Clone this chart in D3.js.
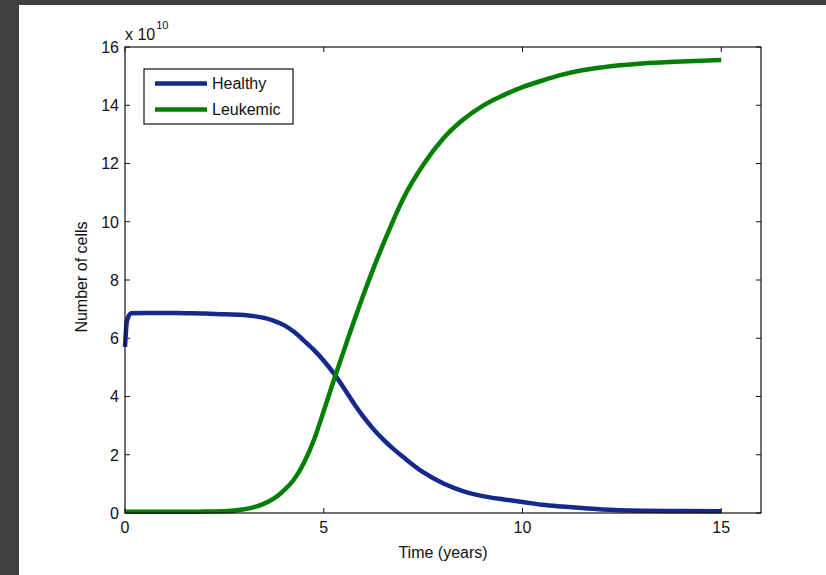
<!DOCTYPE html>
<html lang="en">
<head>
  <meta charset="UTF-8">
  <title>Healthy vs Leukemic cells</title>
  <script src="https://d3js.org/d3.v7.min.js"></script>
  <style>
    body { margin: 0; background: #3f3f3f; }
    #chart { width: 826px; height: 575px; }
    text { font-family: "Liberation Sans", Arial, sans-serif; fill: #111; }
  </style>
</head>
<body>
  <div id="chart"></div>
  <script>
    // time points (years) shared by both series
    const timeYears = [0, 0.05, 0.15, 0.5, 1, 1.5, 2, 2.5, 3, 3.25, 3.5, 3.75, 4, 4.25, 4.5, 4.75,
      5, 5.25, 5.5, 5.75, 6, 6.25, 6.5, 6.75, 7, 7.5, 8, 8.5, 9, 9.5, 10, 10.5, 11, 11.5, 12, 13, 14, 15];
    // values in units of 1e10 cells
    const healthy = [5.7, 6.6, 6.86, 6.87, 6.87, 6.86, 6.85, 6.82, 6.8, 6.76, 6.7, 6.6, 6.45, 6.22, 5.92, 5.6,
      5.23, 4.8, 4.3, 3.78, 3.3, 2.88, 2.52, 2.2, 1.92, 1.4, 1.02, 0.75, 0.58, 0.47, 0.38, 0.28, 0.22, 0.17, 0.12, 0.08, 0.07, 0.06];
    const leukemic = [0.04, 0.04, 0.04, 0.04, 0.04, 0.04, 0.05, 0.06, 0.13, 0.2, 0.32, 0.5, 0.78, 1.15, 1.72, 2.5,
      3.5, 4.55, 5.55, 6.55, 7.5, 8.4, 9.25, 10.05, 10.8, 11.95, 12.85, 13.5, 13.98, 14.33, 14.62, 14.85, 15.05, 15.2, 15.3, 15.43, 15.5, 15.55];
    const seriesNames = ['Healthy', 'Leukemic'];
    const seriesColors = ['#15298c', '#038003'];
    const xTicks = [0, 5, 10, 15];
    const yTicks = [0, 2, 4, 6, 8, 10, 12, 14, 16];

    const W = 826, H = 575;
    const margin = { top: 47, right: 65, bottom: 62, left: 125 };
    const width = W - margin.left - margin.right;
    const height = H - margin.top - margin.bottom;

    const root = d3.select('#chart').append('svg')
      .attr('width', W)
      .attr('height', H);

    root.append('rect').attr('x', 19).attr('y', 5).attr('width', W - 19).attr('height', H - 5).attr('fill', '#fff');

    const svg = root.append('g').attr('transform', `translate(${margin.left},${margin.top})`);

    const x = d3.scaleLinear().domain([0, 16]).range([0, width]);
    const y = d3.scaleLinear().domain([0, 16]).range([height, 0]);

    const tickLen = 5;

    // tick marks (inward) on all four sides
    const tickG = svg.append('g').attr('stroke', '#111').attr('stroke-width', 1);
    xTicks.forEach(t => {
      tickG.append('line').attr('x1', x(t)).attr('x2', x(t)).attr('y1', height).attr('y2', height - tickLen);
      tickG.append('line').attr('x1', x(t)).attr('x2', x(t)).attr('y1', 0).attr('y2', tickLen);
    });
    yTicks.forEach(t => {
      tickG.append('line').attr('x1', 0).attr('x2', tickLen).attr('y1', y(t)).attr('y2', y(t));
      tickG.append('line').attr('x1', width).attr('x2', width - tickLen).attr('y1', y(t)).attr('y2', y(t));
    });

    svg.selectAll('text.xt').data(xTicks).join('text')
      .attr('class', 'xt')
      .attr('x', d => x(d))
      .attr('y', height + 20)
      .attr('text-anchor', 'middle')
      .style('font-size', '16px')
      .text(d => d);

    svg.selectAll('text.yt').data(yTicks).join('text')
      .attr('class', 'yt')
      .attr('x', -6)
      .attr('y', d => y(d))
      .attr('dy', '0.36em')
      .attr('text-anchor', 'end')
      .style('font-size', '16px')
      .text(d => d);

    // exponent label
    const expo = svg.append('text').attr('x', 0).attr('y', -7).style('font-size', '16px');
    expo.append('tspan').text('x 10');
    expo.append('tspan').attr('dx', 1).attr('dy', '-11').style('font-size', '11px').text('10');

    // lines
    const line = d3.line()
      .x((d, i) => x(timeYears[i]))
      .y(d => y(d))
      .curve(d3.curveMonotoneX);

    [healthy, leukemic].forEach((vals, i) => {
      svg.append('path')
        .datum(vals)
        .attr('fill', 'none')
        .attr('stroke', seriesColors[i])
        .attr('stroke-width', 4.5)
        .attr('stroke-linejoin', 'round')
        .attr('d', line);
    });

    // axes box
    svg.append('rect')
      .attr('x', 0).attr('y', 0)
      .attr('width', width).attr('height', height)
      .attr('fill', 'none')
      .attr('stroke', '#111')
      .attr('stroke-width', 1.2);

    // axis titles
    svg.append('text')
      .attr('x', width / 2)
      .attr('y', height + 45)
      .attr('text-anchor', 'middle')
      .style('font-size', '16px')
      .text('Time (years)');

    svg.append('text')
      .attr('transform', 'rotate(-90)')
      .attr('x', -height / 2 + 3)
      .attr('y', -38)
      .attr('text-anchor', 'middle')
      .style('font-size', '16px')
      .text('Number of cells');

    // legend
    const legend = svg.append('g').attr('transform', `translate(${144 - margin.left},${69 - margin.top})`);
    legend.append('rect')
      .attr('width', 149).attr('height', 55)
      .attr('fill', '#fff')
      .attr('stroke', '#111')
      .attr('stroke-width', 1.2);
    seriesNames.forEach((name, i) => {
      const ly = 14.5 + i * 26;
      legend.append('line')
        .attr('x1', 11).attr('x2', 63)
        .attr('y1', ly).attr('y2', ly)
        .attr('stroke', seriesColors[i])
        .attr('stroke-width', 4.5);
      legend.append('text')
        .attr('x', 68).attr('y', ly)
        .attr('dy', '0.36em')
        .style('font-size', '16px')
        .text(name);
    });
  </script>
</body>
</html>
